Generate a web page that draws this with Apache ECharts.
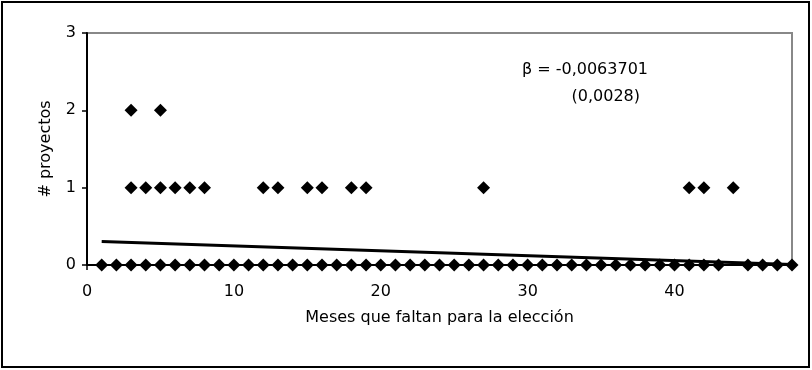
<!DOCTYPE html>
<html>
<head>
<meta charset="utf-8">
<script src="https://cdn.jsdelivr.net/npm/echarts@6/dist/echarts.min.js"></script>
<style>
  html, body { margin: 0; padding: 0; background: #fff; }
  #chart { width: 812px; height: 370px; }
</style>
</head>
<body>
<div id="chart"></div>
<script>
// meses con 0, 1 y 2 proyectos
const zeroMonths = [1, 2, 3, 4, 5, 6, 7, 8, 9, 10, 11, 12, 13, 14, 15, 16, 17, 18, 19, 20,
  21, 22, 23, 24, 25, 26, 27, 28, 29, 30, 31, 32, 33, 34, 35, 36, 37, 38, 39, 40,
  41, 42, 43, 45, 46, 47, 48];
const oneMonths = [3, 4, 5, 6, 7, 8, 12, 13, 15, 16, 18, 19, 27, 41, 42, 44];
const twoMonths = [3, 5];

// recta de ajuste, extremos
const trendX = [1, 48];
const trendY = [0.305, 0.006];

const xTicks = [0, 10, 20, 30, 40];
const yTicks = [0, 1, 2, 3];

const FONT = 'DejaVu Sans, sans-serif';

const points = []
  .concat(zeroMonths.map(m => [m, 0]))
  .concat(oneMonths.map(m => [m, 1]))
  .concat(twoMonths.map(m => [m, 2]));

const chart = echarts.init(document.getElementById('chart'));

chart.setOption({
  animation: false,
  backgroundColor: '#fff',
  grid: { left: 87, right: 20, top: 33, bottom: 105, show: true, borderColor: '#888', borderWidth: 2 },
  xAxis: {
    type: 'value',
    min: 0,
    max: 48,
    interval: 10,
    name: 'Meses que faltan para la elección',
    nameLocation: 'middle',
    nameGap: 45,
    nameTextStyle: { fontFamily: FONT, fontSize: 16, color: '#000' },
    axisLine: { show: true, onZero: false, lineStyle: { color: '#000', width: 2 } },
    axisTick: { show: true, length: 5, lineStyle: { color: '#000', width: 1.5 } },
    splitLine: { show: false },
    axisLabel: {
      showMaxLabel: false,
      margin: 19,
      fontFamily: FONT, fontSize: 16, color: '#000',
      formatter: v => (xTicks.indexOf(v) >= 0 ? String(v) : '')
    }
  },
  yAxis: {
    type: 'value',
    min: 0,
    max: 3,
    interval: 1,
    name: '# proyectos',
    nameLocation: 'middle',
    nameGap: 33,
    nameTextStyle: { fontFamily: FONT, fontSize: 16, color: '#000' },
    axisLine: { show: true, lineStyle: { color: '#000', width: 2 } },
    axisTick: { show: true, length: 5, lineStyle: { color: '#000', width: 1.5 } },
    splitLine: { show: false },
    axisLabel: {
      margin: 11,
      fontFamily: FONT, fontSize: 16, color: '#000',
      formatter: v => (yTicks.indexOf(v) >= 0 ? String(v) : '')
    }
  },
  series: [
    {
      type: 'line',
      data: trendX.map((x, i) => [x, trendY[i]]),
      symbol: 'none',
      lineStyle: { color: '#000', width: 3 },
      z: 3
    },
    {
      type: 'scatter',
      data: points,
      symbol: 'diamond',
      symbolSize: [13, 13],
      itemStyle: { color: '#000', opacity: 1 },
      clip: false,
      z: 4
    }
  ],
  graphic: [
    {
      type: 'rect',
      shape: { x: 2, y: 2, width: 807, height: 365 },
      style: { fill: 'none', stroke: '#000', lineWidth: 2 },
      silent: true
    },
    {
      type: 'text',
      x: 648,
      y: 70,
      style: { text: 'β = -0,0063701', fontFamily: FONT, fontSize: 16, fill: '#000', align: 'right', verticalAlign: 'middle' }
    },
    {
      type: 'text',
      x: 640,
      y: 97,
      style: { text: '(0,0028)', fontFamily: FONT, fontSize: 16, fill: '#000', align: 'right', verticalAlign: 'middle' }
    }
  ]
});
</script>
</body>
</html>
